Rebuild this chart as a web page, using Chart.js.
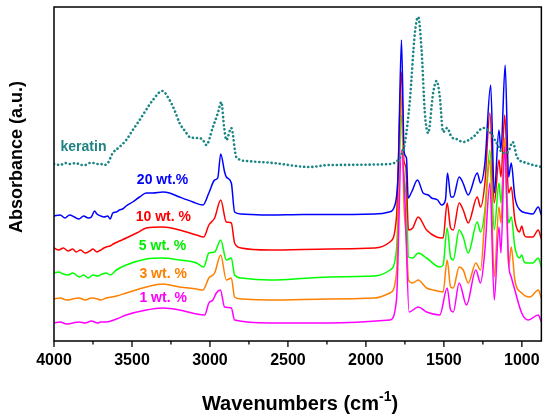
<!DOCTYPE html>
<html>
<head>
<meta charset="utf-8">
<script src="https://cdn.jsdelivr.net/npm/chart.js@4.4.1/dist/chart.umd.min.js"></script>
<style>
  html, body { margin: 0; padding: 0; background: #fff; }
  #wrap { width: 550px; height: 417px; }
</style>
</head>
<body>
<div id="wrap"><canvas id="ftir" width="550" height="417"></canvas></div>
<script>
// FTIR spectra, offset absorbance (arbitrary units)
const tickLabels = [4000, 3500, 3000, 2500, 2000, 1500, 1000];

const keratinWn = [4000, 3960, 3930, 3900, 3858, 3830, 3800, 3770, 3750, 3720, 3700, 3680, 3655, 3623, 3580, 3537, 3495, 3451, 3410, 3366, 3306, 3259, 3225, 3195, 3160, 3130, 3087, 3050, 3023, 2981, 2949, 2927, 2910, 2895, 2863, 2831, 2766, 2596, 2360, 2232, 1846, 1793, 1770, 1750, 1718, 1686, 1665, 1643, 1622, 1601, 1569, 1547, 1526, 1505, 1479, 1451, 1420, 1376, 1312, 1248, 1205, 1162, 1120, 1088, 1059, 1031, 969, 875];
const keratinAbs = [177, 176, 178, 177, 178, 176, 176, 178, 178, 177, 177, 176, 178, 188, 194, 201, 211, 221, 231, 241, 250, 241, 230, 218, 210, 204, 203, 202, 196, 214, 228, 239, 215, 201, 213, 184, 180, 178, 174, 176, 177, 181, 187, 198, 241, 308, 324, 291, 228, 208, 248, 260, 244, 209, 213, 204, 202, 199, 204, 213, 209, 198, 188, 189, 199, 184, 178, 174];

const wt20Wn = [4000, 3960, 3930, 3900, 3870, 3840, 3810, 3780, 3760, 3740, 3725, 3700, 3680, 3655, 3640, 3623, 3600, 3580, 3560, 3537, 3496, 3451, 3408, 3366, 3302, 3259, 3195, 3109, 3045, 3007, 2970, 2950, 2931, 2906, 2895, 2863, 2842, 2800, 2617, 2400, 2200, 1943, 1850, 1814, 1793, 1772, 1755, 1740, 1729, 1707, 1669, 1633, 1600, 1579, 1540, 1515, 1490, 1477, 1455, 1440, 1402, 1380, 1344, 1286, 1265, 1237, 1200, 1177, 1147, 1134, 1107, 1085, 1068, 1045, 1012, 969, 930, 895, 875];
const wt20Abs = [125, 126, 123, 126, 124, 122, 125, 123, 124, 130, 127, 125, 124, 125, 122, 128, 129, 131, 132, 135, 139, 144, 148, 148, 149, 148, 144, 139, 136, 148, 161, 163, 187, 169, 164, 158, 129, 127, 126, 126.5, 126.5, 127, 129, 136, 169, 301, 189, 183, 143, 149, 161, 148, 146, 143, 141, 136, 141, 168, 144, 144, 164, 159, 146, 168, 158, 178, 256, 148, 211, 191, 276, 164, 178, 144, 131, 128, 127, 134, 126];

const wt10Wn = [4000, 3970, 3940, 3910, 3880, 3858, 3830, 3800, 3770, 3750, 3725, 3700, 3680, 3665, 3640, 3620, 3580, 3537, 3470, 3408, 3302, 3195, 3087, 3040, 3007, 2970, 2931, 2895, 2863, 2842, 2800, 2617, 2232, 1943, 1846, 1804, 1772, 1757, 1744, 1727, 1700, 1665, 1611, 1547, 1505, 1479, 1457, 1440, 1402, 1376, 1344, 1286, 1265, 1237, 1205, 1177, 1147, 1134, 1110, 1085, 1068, 1045, 1015, 1001, 985, 969, 930, 895, 875];
const wt10Abs = [93, 91, 93, 90, 92, 89, 91, 88, 90, 92, 89, 91, 93, 94, 95, 97, 100, 103, 108, 113, 114, 111, 106, 104, 116, 123, 141, 119, 118, 98, 93, 91, 92, 93, 99, 124, 269, 181, 174, 111, 113, 124, 111, 104, 103, 138, 113, 111, 138, 131, 118, 144, 134, 158, 228, 138, 181, 164, 226, 148, 154, 121, 109, 115, 106, 104, 104, 111, 102];

const wt5Wn = [4000, 3970, 3940, 3910, 3880, 3836, 3810, 3780, 3750, 3720, 3690, 3665, 3640, 3600, 3537, 3408, 3302, 3195, 3087, 3040, 3007, 2970, 2931, 2895, 2863, 2842, 2800, 2617, 2232, 1943, 1846, 1804, 1772, 1757, 1740, 1727, 1700, 1665, 1611, 1526, 1505, 1479, 1457, 1440, 1402, 1376, 1344, 1286, 1265, 1237, 1205, 1177, 1147, 1134, 1110, 1085, 1068, 1045, 1015, 1001, 985, 969, 930, 895, 875];
const wt5Abs = [68, 69, 67, 66, 68, 64, 66, 63, 66, 65, 67, 68, 66, 71, 76, 82, 83, 81, 78, 74, 88, 89, 101, 81, 83, 66, 63, 61, 64, 65, 71, 91, 226, 168, 141, 84, 83, 88, 83, 74, 76, 113, 84, 81, 111, 104, 88, 119, 109, 131, 191, 111, 158, 138, 198, 118, 124, 94, 83, 86, 79, 78, 78, 83, 74];

const wt3Wn = [4000, 3960, 3920, 3880, 3840, 3800, 3760, 3720, 3700, 3665, 3600, 3537, 3408, 3302, 3195, 3087, 3045, 3007, 2970, 2931, 2895, 2863, 2842, 2800, 2617, 2232, 1943, 1846, 1804, 1772, 1757, 1740, 1727, 1700, 1665, 1611, 1569, 1505, 1479, 1457, 1440, 1402, 1376, 1344, 1295, 1265, 1237, 1205, 1177, 1147, 1134, 1110, 1085, 1068, 1045, 1001, 948, 895, 875];
const wt3Abs = [42, 43, 41, 42, 43, 41, 43, 42, 41, 43, 45, 48, 54, 57, 54, 52, 51, 63, 68, 86, 61, 63, 44, 42, 41, 42, 43, 48, 68, 246, 141, 101, 61, 58, 61, 53, 51, 49, 81, 54, 53, 74, 71, 58, 78, 71, 124, 181, 64, 134, 118, 203, 74, 94, 61, 48, 44, 51, 43];

const wt1Wn = [4000, 3960, 3920, 3880, 3840, 3800, 3760, 3720, 3700, 3665, 3600, 3537, 3408, 3302, 3195, 3087, 3034, 3007, 2981, 2959, 2933, 2906, 2863, 2842, 2617, 2232, 1846, 1804, 1772, 1750, 1723, 1665, 1611, 1526, 1479, 1457, 1440, 1402, 1355, 1295, 1265, 1237, 1205, 1177, 1147, 1134, 1110, 1085, 1068, 1045, 1001, 959, 895, 875];
const wt1Abs = [18, 19, 17, 18, 19, 18, 20, 18, 19, 19, 22, 26, 31, 33, 31, 27, 26, 38, 41, 48, 51, 34, 33, 21, 18, 18, 21, 41, 191, 141, 29, 34, 29, 26, 53, 31, 29, 58, 36, 71, 58, 91, 158, 41, 114, 88, 194, 78, 64, 51, 28, 21, 26, 19];

const seriesNames = ['keratin', '20 wt.%', '10 wt. %', '5 wt. %', '3 wt. %', '1 wt. %'];

function pts(wn, ab) {
  return wn.map((w, i) => ({ x: w, y: ab[i] }));
}

const FONT = "'Liberation Sans', Arial, sans-serif";

// curve labels, placed in data coordinates
const labelSpots = [
  { text: seriesNames[0], x: 3811, y: 194, color: '#1f8282' },
  { text: seriesNames[1], x: 3304, y: 161, color: '#0000ff' },
  { text: seriesNames[2], x: 3299, y: 124, color: '#ff0000' },
  { text: seriesNames[3], x: 3304, y: 95, color: '#00ee00' },
  { text: seriesNames[4], x: 3300, y: 67, color: '#ff8000' },
  { text: seriesNames[5], x: 3300, y: 43, color: '#ff00ff' },
];

const decor = {
  id: 'decor',
  afterDatasetsDraw(chart) {
    const { ctx, chartArea: a, scales } = chart;
    const xs = scales.x, ys = scales.y;
    ctx.save();
    // frame
    ctx.strokeStyle = '#000';
    ctx.lineWidth = 1.5;
    ctx.strokeRect(a.left, a.top, a.right - a.left, a.bottom - a.top);
    // ticks
    ctx.lineWidth = 1.3;
    for (let v = 1000; v <= 4000; v += 250) {
      const px = xs.getPixelForValue(v);
      const len = v % 500 === 0 ? 6 : 3.5;
      ctx.beginPath();
      ctx.moveTo(px, a.bottom);
      ctx.lineTo(px, a.bottom + len);
      ctx.stroke();
    }
    // curve labels
    ctx.font = 'bold 14px ' + FONT;
    ctx.textAlign = 'center';
    ctx.textBaseline = 'middle';
    labelSpots.forEach(l => {
      ctx.fillStyle = l.color;
      ctx.fillText(l.text, xs.getPixelForValue(l.x), ys.getPixelForValue(l.y));
    });
    // axis titles
    ctx.fillStyle = '#000';
    ctx.font = 'bold 20px ' + FONT;
    ctx.textAlign = 'left';
    ctx.textBaseline = 'alphabetic';
    const main = 'Wavenumbers (cm';
    const sup = '-1';
    const close = ')';
    const wMain = ctx.measureText(main).width;
    const wClose = ctx.measureText(close).width;
    ctx.font = 'bold 14px ' + FONT;
    const wSup = ctx.measureText(sup).width;
    const total = wMain + wSup + wClose;
    let tx = 300 - total / 2;
    const by = 410;
    ctx.font = 'bold 20px ' + FONT;
    ctx.fillText(main, tx, by);
    ctx.font = 'bold 14px ' + FONT;
    ctx.fillText(sup, tx + wMain, by - 9);
    ctx.font = 'bold 20px ' + FONT;
    ctx.fillText(close, tx + wMain + wSup, by);

    ctx.translate(17, 157);
    ctx.rotate(-Math.PI / 2);
    ctx.font = 'bold 18px ' + FONT;
    ctx.textAlign = 'center';
    ctx.textBaseline = 'middle';
    ctx.fillText('Absorbance (a.u.)', 0, 0);
    ctx.restore();
  }
};

const line = (data, color, order, extra) => Object.assign({
  data, borderColor: color, borderWidth: 1.5, pointRadius: 0,
  cubicInterpolationMode: 'monotone', fill: false, order
}, extra || {});

new Chart(document.getElementById('ftir'), {
  type: 'line',
  data: {
    datasets: [
      line(pts(keratinWn, keratinAbs), '#1a8585', 0,
        { borderWidth: 2.6, borderDash: [0.1, 4], borderCapStyle: 'round' }),
      line(pts(wt20Wn, wt20Abs), '#0000ff', 1),
      line(pts(wt10Wn, wt10Abs), '#ff0000', 4),
      line(pts(wt5Wn, wt5Abs), '#00ff00', 5),
      line(pts(wt3Wn, wt3Abs), '#ff8000', 3),
      line(pts(wt1Wn, wt1Abs), '#ff00ff', 2),
    ]
  },
  options: {
    responsive: false,
    animation: false,
    events: [],
    layout: { padding: { left: 54, right: 8.5, top: 7, bottom: 0 } },
    plugins: { legend: { display: false }, tooltip: { enabled: false } },
    scales: {
      x: {
        type: 'linear',
        reverse: true,
        min: 875,
        max: 4000,
        afterBuildTicks: s => { s.ticks = tickLabels.map(v => ({ value: v })); },
        afterFit: s => { s.height = 76; },
        grid: { display: false, drawTicks: false },
        border: { display: false },
        ticks: {
          color: '#000',
          padding: 10,
          maxRotation: 0,
          autoSkip: false,
          callback: v => String(v),
          font: { family: FONT, size: 16, weight: 'bold' }
        }
      },
      y: {
        display: false,
        min: 0,
        max: 334
      }
    }
  },
  plugins: [decor]
});
</script>
</body>
</html>
